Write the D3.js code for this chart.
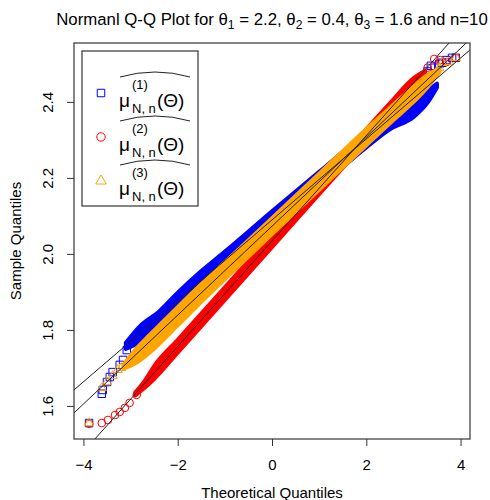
<!DOCTYPE html>
<html>
<head>
<meta charset="utf-8">
<script src="https://cdn.jsdelivr.net/npm/d3@7"></script>
<style>
  body { margin: 0; background: #fff; }
  text { font-family: "Liberation Sans", Arial, sans-serif; fill: #000; }
</style>
</head>
<body>
<script>
// Theoretical quantile axis and sample quantile axis ticks
var xTicks = [-4, -2, 0, 2, 4];
var yTicks = [1.6, 1.8, 2.0, 2.2, 2.4];

// Dense part of each Q-Q cloud: theoretical quantile, lower and upper sample quantile
var blueQ  = [-3.1, -2.8, -2.4, -2.0, -1.5, -1.0, 0, 1, 2, 2.5, 3.0, 3.3, 3.5];
var blueLo = [1.750, 1.768, 1.806, 1.852, 1.905, 1.960, 2.067, 2.174, 2.280, 2.328, 2.360, 2.398, 2.438];
var blueHi = [1.766, 1.810, 1.848, 1.898, 1.955, 2.006, 2.112, 2.216, 2.318, 2.362, 2.398, 2.430, 2.448];

var redQ  = [-2.9, -2.7, -2.5, -2.0, -1.0, 0, 1, 2, 2.5, 3.0, 3.25];
var redLo = [1.628, 1.648, 1.671, 1.740, 1.879, 2.018, 2.157, 2.295, 2.364, 2.436, 2.474];
var redHi = [1.636, 1.666, 1.705, 1.774, 1.912, 2.051, 2.190, 2.328, 2.396, 2.462, 2.482];

var orangeQ  = [-3.15, -2.9, -2.6, -2.0, -1.5, -1.0, 0, 1, 2, 2.5, 3.0, 3.3, 3.55];
var orangeLo = [1.698, 1.712, 1.740, 1.812, 1.874, 1.934, 2.052, 2.169, 2.286, 2.344, 2.400, 2.439, 2.478];
var orangeHi = [1.708, 1.748, 1.786, 1.860, 1.920, 1.978, 2.094, 2.211, 2.328, 2.384, 2.440, 2.471, 2.488];

// Isolated tail points
var blueTailQ = [-3.88, -3.61, -3.59, -3.5, -3.44, -3.38, -3.23, -3.16, -3.08, 3.3, 3.37, 3.45, 3.55, 3.61, 3.7, 3.82, 3.9];
var blueTailS = [1.555, 1.632, 1.642, 1.663, 1.676, 1.689, 1.708, 1.721, 1.747, 2.48, 2.495, 2.49, 2.50, 2.503, 2.51, 2.516, 2.516];

var redTailQ = [-3.88, -3.61, -3.48, -3.33, -3.23, -3.12, -3.02, -2.87, 3.3, 3.44, 3.57, 3.7, 3.9];
var redTailS = [1.553, 1.555, 1.563, 1.576, 1.584, 1.595, 1.608, 1.629, 2.49, 2.513, 2.51, 2.505, 2.516];

var orangeTailQ = [-3.88, -3.61, -3.5, -3.38, -3.27, -3.2, 3.55, 3.61, 3.75, 3.9];
var orangeTailS = [1.555, 1.647, 1.663, 1.679, 1.695, 1.70, 2.49, 2.503, 2.505, 2.516];

// Reference qq-lines (intercept, slope) for blue, red, orange
var lineIntercept = [2.0895, 2.034, 2.073];
var lineSlope = [0.1065, 0.1387, 0.117];

var legendLabels = ["(1)", "(2)", "(3)"];

var width = 490, height = 500;
var margin = { top: 43, left: 74, right: 20, bottom: 61 };
var plotW = width - margin.left - margin.right;
var plotH = height - margin.top - margin.bottom;

var svg = d3.select("body").append("svg")
  .attr("width", width)
  .attr("height", height);

var x = d3.scaleLinear().domain([-4.2, 4.2]).range([margin.left, margin.left + plotW]);
var y = d3.scaleLinear().domain([1.513, 2.555]).range([margin.top + plotH, margin.top]);

svg.append("clipPath").attr("id", "clip")
  .append("rect")
  .attr("x", margin.left).attr("y", margin.top)
  .attr("width", plotW).attr("height", plotH);

var plot = svg.append("g").attr("clip-path", "url(#clip)");

function zip3(q, lo, hi) {
  return q.map(function(d, i) { return { q: d, lo: lo[i], hi: hi[i] }; });
}
function zip2(q, s) {
  return q.map(function(d, i) { return { q: d, s: s[i] }; });
}

var area = d3.area()
  .x(function(d) { return x(d.q); })
  .y0(function(d) { return y(d.lo); })
  .y1(function(d) { return y(d.hi); })
  .curve(d3.curveMonotoneX);

var series = [
  { band: zip3(blueQ, blueLo, blueHi), tail: zip2(blueTailQ, blueTailS), color: "#0000ff", shape: d3.symbolSquare, size: 56 },
  { band: zip3(redQ, redLo, redHi), tail: zip2(redTailQ, redTailS), color: "#ff0000", shape: d3.symbolCircle, size: 46 },
  { band: zip3(orangeQ, orangeLo, orangeHi), tail: zip2(orangeTailQ, orangeTailS), color: "#ffa500", shape: d3.symbolTriangle, size: 36 }
];

series.forEach(function(s) {
  plot.append("path")
    .attr("d", area(s.band))
    .attr("fill", s.color)
    .attr("stroke", s.color)
    .attr("stroke-width", 4)
    .attr("stroke-linejoin", "round");

  plot.selectAll(null)
    .data(s.tail)
    .enter().append("path")
    .attr("transform", function(d) { return "translate(" + x(d.q) + "," + y(d.s) + ")"; })
    .attr("d", d3.symbol().type(s.shape).size(s.size))
    .attr("fill", "none")
    .attr("stroke", s.color)
    .attr("stroke-width", 1);
});

// qq-lines
lineIntercept.forEach(function(a, i) {
  var b = lineSlope[i];
  plot.append("line")
    .attr("x1", x(-4.2)).attr("y1", y(a + b * -4.2))
    .attr("x2", x(4.2)).attr("y2", y(a + b * 4.2))
    .attr("stroke", "#222")
    .attr("stroke-width", 1);
});

// box
svg.append("rect")
  .attr("x", margin.left).attr("y", margin.top)
  .attr("width", plotW).attr("height", plotH)
  .attr("fill", "none").attr("stroke", "#333").attr("stroke-width", 1.2);

// axes
var xAxis = svg.append("g")
  .attr("transform", "translate(0," + (margin.top + plotH) + ")")
  .call(d3.axisBottom(x).tickValues(xTicks).tickSize(7).tickPadding(13));
xAxis.select(".domain").remove();
xAxis.selectAll("text").style("font-size", "15px");
xAxis.selectAll("line").attr("stroke", "#333");

var yAxis = svg.append("g")
  .attr("transform", "translate(" + margin.left + ",0)")
  .call(d3.axisLeft(y).tickValues(yTicks).tickFormat(d3.format(".1f")).tickSize(7));
yAxis.select(".domain").remove();
yAxis.selectAll("line").attr("stroke", "#333");
yAxis.selectAll("text")
  .attr("x", null).attr("dy", null).attr("y", null)
  .attr("transform", "translate(-21,0) rotate(-90)")
  .attr("text-anchor", "middle")
  .style("font-size", "15px");

// axis titles
svg.append("text")
  .attr("x", x(0)).attr("y", 498)
  .attr("text-anchor", "middle")
  .style("font-size", "15px")
  .text("Theoretical Quantiles");

svg.append("text")
  .attr("transform", "translate(21," + (margin.top + plotH / 2) + ") rotate(-90)")
  .attr("text-anchor", "middle")
  .style("font-size", "15px")
  .text("Sample Quantiles");

// title, sized so it spans about 434px like the original
var titleSize = 16;
var title = svg.append("text")
  .attr("x", x(0)).attr("y", 25)
  .attr("text-anchor", "middle");
title.append("tspan").attr("class", "big").text("Normanl Q-Q Plot for θ");
title.append("tspan").attr("class", "sub").attr("dy", 4).text("1");
title.append("tspan").attr("class", "big").attr("dy", -4).text(" = 2.2, θ");
title.append("tspan").attr("class", "sub").attr("dy", 4).text("2");
title.append("tspan").attr("class", "big").attr("dy", -4).text(" = 0.4, θ");
title.append("tspan").attr("class", "sub").attr("dy", 4).text("3");
title.append("tspan").attr("class", "big").attr("dy", -4).text(" = 1.6 and n=10");
function sizeTitle(fs) {
  title.selectAll(".big").style("font-size", fs + "px");
  title.selectAll(".sub").style("font-size", (fs * 0.72) + "px");
}
sizeTitle(titleSize);
var tw = title.node().getComputedTextLength();
if (tw > 0) sizeTitle(titleSize * 432 / tw);

// legend
var legend = svg.append("g");
legend.append("rect")
  .attr("x", 82).attr("y", 51)
  .attr("width", 116).attr("height", 155)
  .attr("fill", "#fff").attr("stroke", "#333").attr("stroke-width", 1.2);

series.forEach(function(s, i) {
  var base = 107 + i * 44;
  legend.append("path")
    .attr("transform", "translate(101," + (base - 14) + ")")
    .attr("d", d3.symbol().type(s.shape).size(i === 2 ? 48 : 56)())
    .attr("fill", "none")
    .attr("stroke", s.color)
    .attr("stroke-width", 1);

  legend.append("path")
    .attr("d", "M120," + (base - 30) + " Q137," + (base - 35) + " 155," + (base - 35) + " Q173," + (base - 35) + " 190," + (base - 30))
    .attr("fill", "none").attr("stroke", "#222").attr("stroke-width", 1);

  legend.append("text").attr("x", 119).attr("y", base).style("font-size", "19px").text("μ");
  legend.append("text").attr("x", 132).attr("y", base - 18).style("font-size", "13px").text(legendLabels[i]);
  legend.append("text").attr("x", 132).attr("y", base + 6).style("font-size", "13px").text("N, n");
  legend.append("text").attr("x", 157).attr("y", base).style("font-size", "19px").text("(Θ)");
});
</script>
</body>
</html>
